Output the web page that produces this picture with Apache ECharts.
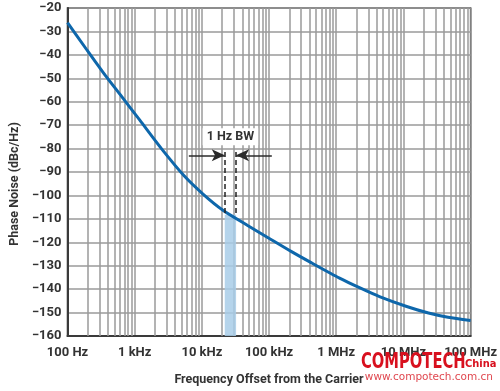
<!DOCTYPE html>
<html>
<head>
<meta charset="utf-8">
<script src="https://cdn.jsdelivr.net/npm/echarts@6/dist/echarts.min.js"></script>
<style>
html,body{margin:0;padding:0;background:#fff;}
#chart{width:500px;height:391px;}
</style>
</head>
<body>
<div id="chart"></div>
<script>
// ---- data ----
const freqHz = [100, 190, 370, 610, 1200, 2500, 5400, 10500, 20600, 48000, 110000, 216000, 423000, 1120000, 2260000, 4400000, 10900000, 23600000, 46000000, 100000000];
const phaseNoise = [-26.2, -37.5, -49, -57, -68, -80, -91.5, -99.5, -106.3, -112.8, -119, -124, -128.7, -135.3, -139.5, -143.2, -147.3, -150.2, -152, -153.4];
const xTickLabels = ['100 Hz', '1 kHz', '10 kHz', '100 kHz', '1 MHz', '10 MHz', '100 MHz'];
const yTickValues = [-160, -150, -140, -130, -120, -110, -100, -90, -80, -70, -60, -50, -40, -30, -20];
// 1 Hz BW annotation (data coordinates)
const bwBand = [21900, 32300];
const bwBandTop = -108.3;
const bwDashTop = -81.5;
const bwArrowY = -82.9;
const bwArrowStarts = [6400, 110000];
const bwLabel = '1 Hz BW';
const bwLabelPos = [26600, -75];

const minorGrid = [];
for (let e = 2; e < 8; e++) {
  for (let k = 2; k <= 9; k++) minorGrid.push(k * Math.pow(10, e));
}

const fontFam = 'Roboto, "Liberation Sans", sans-serif';
const wmFont = '"DejaVu Sans Condensed", "DejaVu Sans", sans-serif';
const gridColor = '#9a9a9a';
const chart = echarts.init(document.getElementById('chart'), null, {renderer: 'canvas'});
chart.setOption({
  animation: false,
  grid: {left: 61, right: 27, top: 8, bottom: 52, show: true, borderColor: '#3a3a3a', borderWidth: 1.5, backgroundColor: 'transparent'},
  xAxis: {
    type: 'log', logBase: 10, min: 100, max: 100000000, interval: 1,
    name: 'Frequency Offset from the Carrier', nameLocation: 'middle', nameGap: 37,
    nameTextStyle: {fontFamily: fontFam, fontWeight: 'bold', fontSize: 12.5, color: '#333'},
    axisLine: {show: true, lineStyle: {color: '#3a3a3a', width: 2}},
    axisTick: {show: false},
    axisLabel: {
      margin: 10, fontFamily: fontFam, fontWeight: 'bold', fontSize: 13, color: '#333',
      formatter: v => xTickLabels[Math.round(Math.log10(v)) - 2] || ''
    },
    splitLine: {show: true, lineStyle: {color: gridColor, width: 1.5}}
  },
  yAxis: {
    type: 'value', min: -160, max: -20, interval: 10,
    name: 'Phase Noise (dBc/Hz)', nameLocation: 'middle', nameGap: 46, nameRotate: 90,
    nameTextStyle: {fontFamily: fontFam, fontWeight: 'bold', fontSize: 12.5, color: '#333', padding: [0, 24, 0, 0]},
    axisLine: {show: true, lineStyle: {color: '#3a3a3a', width: 2}},
    axisTick: {show: false},
    axisLabel: {
      margin: 6, fontFamily: fontFam, fontWeight: 'bold', fontSize: 13, color: '#333',
      formatter: v => yTickValues.indexOf(v) >= 0 ? String(v).replace('-', '\u2212') : ''
    },
    splitLine: {show: true, lineStyle: {color: gridColor, width: 1.5}}
  },
  series: [
    {
      // minor log grid lines + 1 Hz band
      type: 'line', data: [], z: 1, silent: true,
      markLine: {
        silent: true, z: 1, symbol: ['none', 'none'], label: {show: false},
        lineStyle: {color: gridColor, width: 1.5, type: 'solid'},
        data: minorGrid.map(v => ({xAxis: v}))
      },
      markArea: {
        silent: true, z: 2,
        itemStyle: {color: '#a8cde8', opacity: 0.85},
        data: [[{coord: [bwBand[0], -160]}, {coord: [bwBand[1], bwBandTop]}]]
      }
    },
    {
      type: 'line', name: 'Phase Noise', z: 3,
      data: freqHz.map((f, i) => [f, phaseNoise[i]]),
      smooth: 0.25, showSymbol: false,
      lineStyle: {color: '#0e67ab', width: 3},
      itemStyle: {color: '#0e67ab'}
    },
    {
      type: 'line', data: [], z: 4, silent: true,
      markLine: {
        silent: true, z: 6, label: {show: false},
        data: [
          [{coord: [bwBand[0], bwDashTop], symbol: 'none', lineStyle: {type: [5, 3], color: '#222', width: 1.5}},
           {coord: [bwBand[0], bwBandTop], symbol: 'none'}],
          [{coord: [bwBand[1], bwDashTop], symbol: 'none', lineStyle: {type: [5, 3], color: '#222', width: 1.5}},
           {coord: [bwBand[1], bwBandTop], symbol: 'none'}],
          [{coord: [bwArrowStarts[0], bwArrowY], symbol: 'none', lineStyle: {type: 'solid', color: '#2a2a2a', width: 1.5}},
           {coord: [bwBand[0], bwArrowY], symbol: 'arrow', symbolSize: [9, 13]}],
          [{coord: [bwArrowStarts[1], bwArrowY], symbol: 'none', lineStyle: {type: 'solid', color: '#2a2a2a', width: 1.5}},
           {coord: [bwBand[1], bwArrowY], symbol: 'arrow', symbolSize: [9, 13]}]
        ]
      },
      markPoint: {
        silent: true, z: 7, symbol: 'rect', symbolSize: 1, itemStyle: {color: 'rgba(0,0,0,0)'},
        label: {
          show: true, position: 'inside', formatter: bwLabel,
          fontFamily: fontFam, fontWeight: 'bold', fontSize: 12.5, color: '#333',
          backgroundColor: '#fff', padding: [2, 4]
        },
        data: [{coord: bwLabelPos}]
      }
    }
  ],
  graphic: [
    {type: 'text', x: 361, y: 352, scaleX: 0.78, z: 100, style: {text: 'COMPOTECH', fontFamily: wmFont, fontWeight: 'bold', fontSize: 21, fill: '#d8101e'}},
    {type: 'text', x: 465, y: 359, z: 100, style: {text: 'China', fontFamily: wmFont, fontWeight: 'bold', fontSize: 11, fill: '#d8101e'}},
    {type: 'text', right: 7, top: 372, z: 100, style: {text: 'www.compotech.com.cn', fontFamily: '"DejaVu Sans", sans-serif', fontSize: 10.5, fill: '#e0474f'}}
  ]
});
</script>
</body>
</html>
